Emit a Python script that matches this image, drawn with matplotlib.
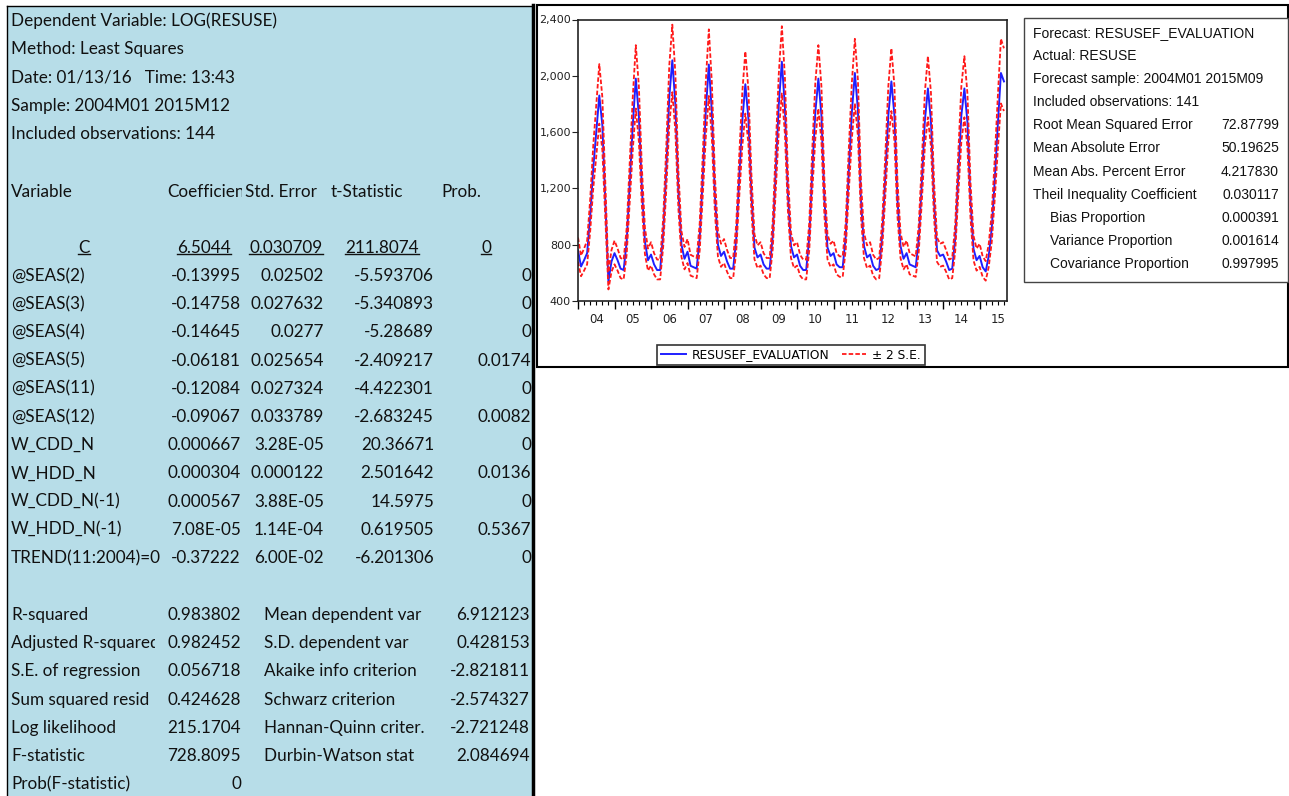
import numpy as np
import matplotlib.pyplot as plt
from matplotlib.patches import Rectangle

'''regression output'''
header_lines = ['Dependent Variable: LOG(RESUSE)', 'Method: Least Squares',
                'Date: 01/13/16   Time: 13:43', 'Sample: 2004M01 2015M12',
                'Included observations: 144']
col_heads = ['Variable', 'Coefficient', 'Std. Error', 't-Statistic', 'Prob.']
const_row = ['C', '6.5044', '0.030709', '211.8074', '0']
var_names = ['@SEAS(2)', '@SEAS(3)', '@SEAS(4)', '@SEAS(5)', '@SEAS(11)', '@SEAS(12)',
             'W_CDD_N', 'W_HDD_N', 'W_CDD_N(-1)', 'W_HDD_N(-1)', 'TREND(11:2004)=0']
coef = ['-0.13995', '-0.14758', '-0.14645', '-0.06181', '-0.12084', '-0.09067',
        '0.000667', '0.000304', '0.000567', '7.08E-05', '-0.37222']
std_err = ['0.02502', '0.027632', '0.0277', '0.025654', '0.027324', '0.033789',
           '3.28E-05', '0.000122', '3.88E-05', '1.14E-04', '6.00E-02']
t_stat = ['-5.593706', '-5.340893', '-5.28689', '-2.409217', '-4.422301', '-2.683245',
          '20.36671', '2.501642', '14.5975', '0.619505', '-6.201306']
prob = ['0', '0', '0', '0.0174', '0', '0.0082', '0', '0.0136', '0', '0.5367', '0']

stat_names = ['R-squared', 'Adjusted R-squared', 'S.E. of regression', 'Sum squared resid',
              'Log likelihood', 'F-statistic', 'Prob(F-statistic)']
stat_vals = ['0.983802', '0.982452', '0.056718', '0.424628', '215.1704', '728.8095', '0']
stat_names2 = ['Mean dependent var', 'S.D. dependent var', 'Akaike info criterion',
               'Schwarz criterion', 'Hannan-Quinn criter.', 'Durbin-Watson stat']
stat_vals2 = ['6.912123', '0.428153', '-2.821811', '-2.574327', '-2.721248', '2.084694']
se_reg = 0.056718

'''forecast evaluation'''
fc_heads = ['Forecast: RESUSEF_EVALUATION', 'Actual: RESUSE',
            'Forecast sample: 2004M01 2015M09', 'Included observations: 141']
fc_names = ['Root Mean Squared Error', 'Mean Absolute Error', 'Mean Abs. Percent Error',
            'Theil Inequality Coefficient', 'Bias Proportion', 'Variance Proportion',
            'Covariance Proportion']
fc_vals = ['72.87799', '50.19625', '4.217830', '0.030117', '0.000391', '0.001614', '0.997995']

# monthly forecast 2004M01 - 2015M09
forecast = [
    760, 645, 690, 740, 1000, 1340, 1600, 1860, 1650, 1100, 540, 680,
    740, 690, 630, 620, 820, 1240, 1650, 1980, 1720, 1200, 820, 690,
    730, 660, 620, 620, 880, 1330, 1850, 2110, 1800, 1180, 800, 700,
    750, 650, 640, 630, 850, 1280, 1750, 2080, 1740, 1150, 800, 720,
    750, 680, 630, 630, 840, 1280, 1680, 1940, 1700, 1160, 780, 710,
    730, 660, 630, 630, 860, 1330, 1800, 2100, 1780, 1160, 790, 710,
    730, 650, 620, 620, 850, 1320, 1740, 1980, 1720, 1120, 780, 720,
    740, 660, 640, 640, 860, 1320, 1740, 2020, 1760, 1120, 790, 710,
    730, 650, 620, 630, 870, 1280, 1720, 1960, 1720, 1120, 790, 700,
    740, 660, 650, 640, 840, 1240, 1680, 1910, 1680, 1120, 760, 720,
    730, 680, 620, 630, 850, 1300, 1720, 1910, 1670, 1110, 770, 690,
    720, 640, 610, 720, 920, 1270, 1660, 2020, 1960,
]
year_labels = ['04', '05', '06', '07', '08', '09', '10', '11', '12', '13', '14', '15']

W, H = 1289, 796
fig = plt.figure(figsize=(W / 100, H / 100), dpi=100)
bg = fig.add_axes([0, 0, 1, 1])
bg.set_xlim(0, W)
bg.set_ylim(H, 0)
bg.axis('off')

cal = ['Lato', 'DejaVu Sans']
fs = 12.3

'''left panel'''
bg.add_patch(Rectangle((7, 6), 526, H, facecolor='#b7dde8', edgecolor='none'))
bg.plot([7, 7], [6, H], color='black', lw=1)
bg.plot([7, 533], [6, 6], color='black', lw=1)
bg.plot([533, 533], [5, H], color='black', lw=2.5)

def txt(x, y, s, ha='left', clip_x=None):
    t = bg.text(x, y, s, ha=ha, va='center', fontsize=fs, family=cal, color='#111111')
    if clip_x is not None:
        t.set_clip_on(True)
        t.set_clip_path(Rectangle((0, 0), clip_x, H, transform=bg.transData))
    return t

for k, s in enumerate(header_lines):
    txt(11, 21 + k * 28.3, s)

head_x = [11, 167, 245, 331, 441]
head_clip = [None, 242, None, None, None]
for s, x, c in zip(col_heads, head_x, head_clip):
    txt(x, 192, s, clip_x=c)

fig.canvas.draw()
renderer = fig.canvas.get_renderer()
inv = bg.transData.inverted()
for s, x in zip(const_row, [84, 204, 286, 382, 486]):
    t = txt(x, 248, s, ha='center')
    bb = t.get_window_extent(renderer)
    (x0, y0), (x1, y1) = inv.transform([[bb.x0, bb.y0], [bb.x1, bb.y1]])
    bg.plot([x0, x1], [y0 - 2.5, y0 - 2.5], color='#111111', lw=1)

for k in range(len(var_names)):
    y = 276 + k * 28.2
    txt(11, y, var_names[k])
    txt(241, y, coef[k], ha='right')
    txt(324, y, std_err[k], ha='right')
    txt(434, y, t_stat[k], ha='right')
    txt(531, y, prob[k], ha='right')

for k in range(len(stat_names)):
    y = 615 + k * 28.2
    txt(11, y, stat_names[k], clip_x=155)
    txt(241, y, stat_vals[k], ha='right')
    if k < len(stat_names2):
        txt(264, y, stat_names2[k])
        txt(530, y, stat_vals2[k], ha='right')

'''right panel'''
bg.add_patch(Rectangle((537, 5), 751, 362, facecolor='white', edgecolor='black', lw=1.5))
bg.add_patch(Rectangle((1024, 18), 264, 264, facecolor='white', edgecolor='#444444', lw=1))
arial = ['Liberation Sans', 'DejaVu Sans']
rows_y = [33 + k * 23.1 for k in range(11)]
for k, s in enumerate(fc_heads):
    bg.text(1033, rows_y[k], s, ha='left', va='center', fontsize=10, family=arial, color='#111111')
for k, s in enumerate(fc_names):
    x = 1050 if k >= 4 else 1033
    bg.text(x, rows_y[k + 4], s, ha='left', va='center', fontsize=10, family=arial, color='#111111')
    bg.text(1279, rows_y[k + 4], fc_vals[k], ha='right', va='center', fontsize=10,
            family=arial, color='#111111')

'''forecast chart'''
f = np.array(forecast, dtype=float)
t = np.arange(len(f))
upper = f * np.exp(2 * se_reg)
lower = f * np.exp(-2 * se_reg)

ax = fig.add_axes([578 / W, 1 - 301 / H, 429 / W, 281.5 / H])
ax.plot(t, f, color='#1f1fff', lw=1.4, label='RESUSEF_EVALUATION')
ax.plot(t, upper, color='#ff1a1a', lw=1.3, ls=(0, (2.5, 1.2)), label='± 2 S.E.')
ax.plot(t, lower, color='#ff1a1a', lw=1.3, ls=(0, (2.5, 1.2)))
ax.set_xlim(0, 141)
ax.set_ylim(400, 2400)
ax.set_yticks(np.arange(400, 2401, 400))
ax.set_yticklabels(['{:,}'.format(v) for v in range(400, 2401, 400)])
ax.tick_params(axis='y', direction='out', length=4, labelsize=8, colors='#222222', pad=1)
ax.set_xticks(np.arange(0, 141, 12))
ax.set_xticklabels([])
ax.set_xticks(np.arange(0, 141, 2), minor=True)
ax.tick_params(axis='x', which='major', direction='out', length=6, width=1)
ax.tick_params(axis='x', which='minor', direction='out', length=3, width=0.8)
for sp in ax.spines.values():
    sp.set_linewidth(1.2)
    sp.set_color('#222222')

sec = ax.secondary_xaxis('bottom')
sec.set_xticks(np.arange(6, 141, 12), labels=year_labels)
sec.tick_params(length=0, labelsize=8.5, pad=9, colors='#222222')
sec.spines['bottom'].set_visible(False)

leg = fig.legend(loc='center', bbox_to_anchor=(791 / W, 1 - 355 / H), ncol=2,
                 frameon=True, fancybox=False, edgecolor='black', fontsize=8.8,
                 handlelength=2.0, borderpad=0.3, columnspacing=1.0, handletextpad=0.5)
leg.get_frame().set_linewidth(1.2)

plt.savefig('out.png', dpi=100)
